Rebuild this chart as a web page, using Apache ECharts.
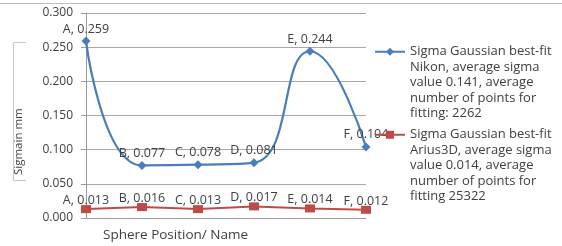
<!DOCTYPE html>
<html>
<head>
<meta charset="utf-8">
<script src="https://cdn.jsdelivr.net/npm/echarts@6/dist/echarts.min.js"></script>
<style>
  html, body { margin: 0; padding: 0; background: #fff; }
  #chart { width: 562px; height: 246px; }
</style>
</head>
<body>
<div id="chart"></div>
<script>
const positions = ['A', 'B', 'C', 'D', 'E', 'F']
const nikonSigma = [0.259, 0.077, 0.078, 0.081, 0.244, 0.104]
const ariusSigma = [0.013, 0.016, 0.013, 0.017, 0.014, 0.012]
const yTicks = { min: 0, max: 0.3, interval: 0.05 }

const nikonName = 'Sigma Gaussian best-fit Nikon, average sigma value 0.141, average number of points for fitting: 2262'
const ariusName = 'Sigma Gaussian best-fit Arius3D, average sigma value 0.014, average number of points for fitting 25322'
// blank lines on top so the legend icon sits next to the first text line
const legendText = {
  [nikonName]: '\n\n\n\nSigma Gaussian best-fit\nNikon, average sigma\nvalue 0.141, average\nnumber of points for\nfitting: 2262',
  [ariusName]: '\n\n\n\nSigma Gaussian best-fit\nArius3D, average sigma\nvalue 0.014, average\nnumber of points for\nfitting 25322'
}

const font = 'Open Sans'
const textColor = '#404040'
const blue = '#4A7EBB'
const red = '#BE4B48'

const chart = echarts.init(document.getElementById('chart'))

const legendStyle = {
  orient: 'vertical',
  left: 374,
  padding: 0,
  itemWidth: 30,
  itemHeight: 10,
  itemGap: 0,
  formatter: name => legendText[name],
  textStyle: {
    fontFamily: font,
    fontSize: 13,
    color: textColor,
    lineHeight: 15.5
  }
}

const labelStyle = {
  show: true,
  position: 'top',
  fontFamily: font,
  fontSize: 12.5,
  color: textColor,
  formatter: p => p.name + ', ' + p.value.toFixed(3)
}

const option = {
  animation: false,
  backgroundColor: '#fff',
  textStyle: { fontFamily: font },
  grid: {
    left: 86,
    right: 196,
    top: 13,
    bottom: 28
  },
  legend: [
    Object.assign({ data: [nikonName], top: -18 }, legendStyle),
    Object.assign({ data: [ariusName], top: 65 }, legendStyle)
  ],
  xAxis: {
    type: 'category',
    data: positions,
    boundaryGap: false,
    axisLine: { lineStyle: { color: '#9a9a9a' } },
    axisTick: { show: false },
    axisLabel: { show: false }
  },
  yAxis: {
    type: 'value',
    min: yTicks.min,
    max: yTicks.max,
    interval: yTicks.interval,
    axisLine: { show: true, lineStyle: { color: '#9a9a9a' } },
    axisTick: { show: true, length: 5, lineStyle: { color: '#9a9a9a' } },
    splitLine: { lineStyle: { color: '#a8a8a8' } },
    axisLabel: {
      color: textColor,
      fontSize: 12,
      margin: 13,
      formatter: v => v.toFixed(3)
    }
  },
  graphic: [
    {
      type: 'line',
      shape: { x1: 0, y1: 3.5, x2: 562, y2: 3.5 },
      style: { stroke: '#bdbdbd', lineWidth: 1 }
    },
    {
      type: 'polyline',
      shape: { points: [[26, 42.5], [13.5, 42.5], [13.5, 180.5], [26, 180.5]] },
      style: { stroke: '#c8c8c8', fill: null, lineWidth: 1 }
    },
    {
      type: 'text',
      x: 13,
      y: 175,
      rotation: Math.PI / 2,
      style: {
        text: 'Sigmain mm',
        fontFamily: font,
        fontSize: 11.5,
        fill: textColor,
        verticalAlign: 'top'
      }
    },
    {
      type: 'text',
      left: 103,
      top: 228,
      style: {
        text: 'Sphere Position/ Name',
        fontFamily: font,
        fontSize: 13.5,
        fill: textColor
      }
    }
  ],
  series: [
    {
      name: nikonName,
      type: 'line',
      data: nikonSigma,
      smooth: 0.5,
      symbol: 'diamond',
      symbolSize: 9,
      itemStyle: { color: blue },
      lineStyle: { width: 2.2, color: blue },
      label: Object.assign({ distance: 1 }, labelStyle)
    },
    {
      name: ariusName,
      type: 'line',
      data: ariusSigma,
      symbol: 'rect',
      symbolSize: [10, 8],
      itemStyle: { color: red },
      lineStyle: { width: 2, color: red },
      label: Object.assign({ distance: -2 }, labelStyle)
    }
  ]
}

chart.setOption(option)
</script>
</body>
</html>
